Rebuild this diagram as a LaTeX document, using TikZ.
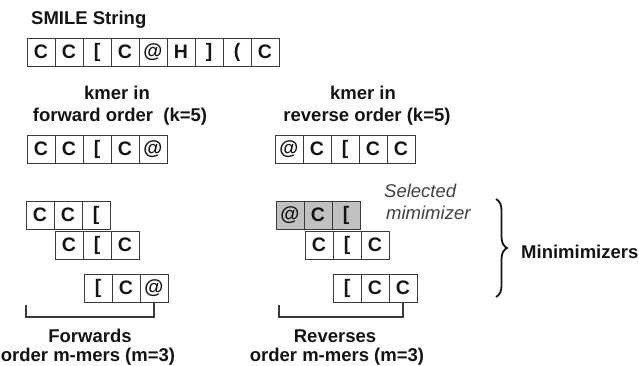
\documentclass[tikz,border=0pt]{standalone}
\usepackage{fontspec}
\setmainfont{Liberation Sans}
\usetikzlibrary{decorations.pathreplacing}
\definecolor{txt}{HTML}{141414}
\definecolor{boxline}{HTML}{3A3A3A}
\definecolor{selfill}{HTML}{C0C0C0}
\definecolor{note}{HTML}{404040}
\newcommand\cellrow[5]{%
  \foreach \t [count=\i] in {#4} {%
    \node[cell,#5] (#1\i) at ({#2+14+28*(\i-1)},#3) {\t};}}
\begin{document}
\begin{tikzpicture}[x=1pt,y=-1pt,
  cell/.style={draw=boxline, line width=0.8pt, minimum width=28pt, minimum height=28pt,
    inner sep=0pt, text=txt, font=\fontsize{19.5}{21}\selectfont\bfseries},
  sel/.style={fill=selfill},
  lbl/.style={text=txt, inner sep=0pt, font=\fontsize{18.5}{22}\selectfont\bfseries},
  notelbl/.style={text=note, inner sep=0pt, font=\fontsize{18.5}{22}\selectfont\itshape},
  bracketline/.style={draw=boxline, line width=1.2pt}]
\useasboundingbox (0,0) rectangle (639,366);

% titles
\node[lbl, anchor=base west] (title) at (31,25) {SMILE String};
\node[lbl, anchor=base] (fk1t) at (117,100) {kmer in};
\node[lbl, anchor=base] (fk2t) at (120,122) {forward order\ \ (k=5)};
\node[lbl, anchor=base] (rk1t) at (363,100) {kmer in};
\node[lbl, anchor=base] (rk2t) at (367,122) {reverse order (k=5)};

% cell rows
\cellrow{s}{27}{52}{C,C,{[},C,@,H,{]},{(},C}{}
\cellrow{fk}{27}{149}{C,C,{[},C,@}{}
\cellrow{rk}{275}{149}{@,C,{[},C,C}{}
\cellrow{fa}{26}{215}{C,C,{[}}{}
\cellrow{fb}{55}{245}{C,{[},C}{}
\cellrow{fc}{84}{288}{{[},C,@}{}
\cellrow{ra}{276}{215}{@,C,{[}}{sel}
\cellrow{rb}{305}{245}{C,{[},C}{}
\cellrow{rc}{333}{288}{{[},C,C}{}

% selected note
\node[notelbl, anchor=base west] (selA) at (384,197) {Selected};
\node[notelbl, anchor=base west] (selB) at (386,219) {mimimizer};

% brace
\coordinate (bt) at (496,199);
\coordinate (bb) at (496,297);
\draw[txt, line width=1.8pt, decorate, decoration={brace, amplitude=11pt}] (bt) -- (bb);
\node[lbl, anchor=base west] (mini) at (521,258) {Minimimizers};

% brackets
\coordinate (fbl) at (26,305);
\coordinate (rbl) at (279,305);
\draw[bracketline] (fbl) -- ++(0,12) -| (fc3.south);
\draw[bracketline] (rbl) -- ++(0,12) -| (rc3.south);

\node[lbl, anchor=base] (fw1) at (90,342) {Forwards};
\node[lbl, anchor=base] (fw2) at (88,361) {order m-mers (m=3)};
\node[lbl, anchor=base] (rv1) at (335,342) {Reverses};
\node[lbl, anchor=base] (rv2) at (337,361) {order m-mers (m=3)};
\end{tikzpicture}
\end{document}
